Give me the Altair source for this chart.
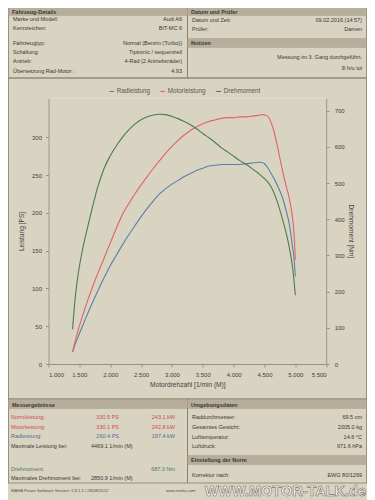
import altair as alt
import pandas as pd

# ---------------- curve data ----------------
rpm_motor = [1390, 1450, 1500, 1600, 1700, 1800, 1900, 2000, 2100, 2200, 2300, 2400, 2500,
             2600, 2700, 2800, 2900, 3000, 3100, 3200, 3300, 3400, 3500, 3600, 3700, 3800,
             3900, 4000, 4100, 4200, 4300, 4400, 4470, 4550, 4600, 4650, 4700, 4750, 4800,
             4850, 4900, 4950, 4980, 5000]
motor_ps = [16, 36, 50, 76, 99, 120, 140, 160, 180, 198, 212, 225, 237,
            248, 259, 269, 279, 288, 296, 303, 309, 314, 318, 321, 323, 325,
            326, 326, 327, 327, 328, 329, 330, 328, 321, 309, 292, 272, 253,
            236, 220, 196, 172, 138]

rpm_rad = [1390, 1450, 1500, 1600, 1700, 1800, 1900, 2000, 2100, 2200, 2300, 2400, 2500,
           2600, 2700, 2800, 2900, 3000, 3100, 3200, 3300, 3400, 3500, 3600, 3700, 3800,
           3900, 4000, 4100, 4200, 4300, 4400, 4450, 4500, 4550, 4600, 4650, 4700, 4750,
           4800, 4850, 4900, 4950, 4980, 5000]
rad_ps = [16, 30, 40, 60, 79, 97, 114, 130, 144, 158, 171, 183, 195,
          206, 216, 225, 232, 238, 243, 248, 252, 256, 259, 262, 263, 264,
          264, 264, 264, 265, 266, 267, 267, 265, 260, 253, 246, 238, 229,
          218, 203, 186, 158, 138, 116]

rpm_torque = [1390, 1420, 1470, 1550, 1620, 1700, 1800, 1900, 2000, 2100, 2200, 2300, 2400,
              2500, 2600, 2700, 2800, 2900, 3000, 3100, 3200, 3300, 3400, 3500, 3600, 3700,
              3800, 3900, 4000, 4100, 4200, 4300, 4400, 4500, 4600, 4700, 4800, 4860, 4910,
              4960, 5000]
torque_nm = [96, 160, 235, 315, 368, 425, 490, 540, 575, 603, 627, 647, 663,
             675, 683, 688, 690, 689, 684, 678, 670, 661, 650, 637, 625, 612,
             598, 586, 574, 562, 552, 540, 527, 512, 492, 452, 395, 356, 315,
             260, 190]

series_names = ["Radleistung", "Motorleistung", "Drehmoment"]
series_colors = ["#5a80a6", "#e2626a", "#4c7c4e"]

x_ticks = [1000, 1500, 2000, 2500, 3000, 3500, 4000, 4500, 5000, 5500]
ps_ticks = [0, 50, 100, 150, 200, 250, 300]
nm_ticks = [0, 100, 200, 300, 400, 500, 600, 700]

# ---------------- printout text ----------------
sec_titles = ["Fahrzeug-Details", "Datum und Prüfer", "Notizen",
              "Messergebnisse", "Umgebungsdaten", "Einstellung der Norm"]

veh_labels = ["Marke und Modell:", "Kennzeichen:", "Fahrzeugtyp:", "Schaltung:",
              "Antrieb:", "Übersetzung Rad-Motor :"]
veh_values = ["Audi A6", "BIT-MC 6", "Normal (Benzin (Turbo))", "Tiptronic / sequenziell",
              "4-Rad (2 Antriebsräder)", "4.93"]
date_labels = ["Datum und Zeit:", "Prüfer:"]
date_values = ["09.02.2016 (14:57)", "Damen"]
notes = ["Messung im 3. Gang durchgeführt.", "3l h/u tol"]

res_labels = ["Normleistung:", "Motorleistung:", "Radleistung:", "Maximale Leistung bei:",
              "Drehmoment:", "Maximales Drehmoment bei:"]
res_ps = ["330.5 PS", "330.1 PS", "260.4 PS"]
res_kw = ["243.1 kW", "242.8 kW", "197.4 kW"]
max_power_rpm = "4469.1 1/min (M)"
max_torque = "687.3 Nm"
max_torque_rpm = "2850.9 1/min (M)"

env_labels = ["Raddurchmesser:", "Gesamtes Gewicht:", "Lufttemperatur:", "Luftdruck:"]
env_values = ["69.5 cm", "2005.0 kg", "14.6 °C", "971.6 hPa"]
norm_label = "Korrektur nach:"
norm_value = "EWG 80/1269"
software_line = "MAHA Power Software Version: 1.8.1.1 / 28/08/2012"
web_line = "www.maha.com"
watermark = "WWW.MOTOR-TALK.de"

# ---------------- styling / layout ----------------
BG = "#d9d3c1"
BAR = "#b6ae9a"
BORDER = "#857d6b"
DARK = "#3b3731"
RED_T = "#d04c4c"
BLUE_T = "#4d6d90"
GREEN_T = "#4c7c4e"
FONT = "Liberation Sans"

PAD_L, PAD_T = 40.5, 90
W, H = 277.7, 266
TOTAL_W, TOTAL_H = 359, 492
PAGE_X = alt.Scale(domain=[0, 375], range=[-PAD_L - 8, 375 - PAD_L - 8], nice=False, zero=False)
PAGE_Y = alt.Scale(domain=[0, 500], range=[-PAD_T - 8, 500 - PAD_T - 8], nice=False, zero=False)

# ---------------- data frames ----------------
power_df = pd.concat([
    pd.DataFrame({"rpm": rpm_rad, "value": rad_ps, "series": series_names[0]}),
    pd.DataFrame({"rpm": rpm_motor, "value": motor_ps, "series": series_names[1]}),
])
torque_df = pd.DataFrame({"rpm": rpm_torque, "value": torque_nm, "series": series_names[2]})

color_enc = alt.Color(
    "series:N",
    scale=alt.Scale(domain=series_names, range=series_colors),
    legend=alt.Legend(orient="none", legendX=60, legendY=-10, direction="horizontal",
                      title=None, symbolType="stroke", symbolSize=22, symbolStrokeWidth=1.1,
                      labelFontSize=6.3, labelColor="#5a564e", labelOffset=2,
                      columnPadding=7, labelFont=FONT),
)

axis_common = dict(labelFontSize=6, labelColor="#45413a", labelFont=FONT,
                   titleFontSize=6.6, titleFontWeight="normal", titleColor="#45413a",
                   titleFont=FONT, domainColor="#9a927f", tickColor="#9a927f", tickSize=3)

power = alt.Chart(power_df).mark_line(interpolate="monotone", strokeWidth=1.1).encode(
    x=alt.X("rpm:Q", scale=alt.Scale(domain=[1000, 5500], nice=False, zero=False),
            axis=alt.Axis(values=x_ticks, title="Motordrehzahl [1/min (M)]",
                          labelExpr="replace(format(datum.value, ','), ',', '.')",
                          labelPadding=4, titleY=20, titleBaseline="middle",
                          gridColor="#cdc6b2", gridWidth=0.6, **axis_common)),
    y=alt.Y("value:Q", scale=alt.Scale(domain=[0, 352], nice=False),
            axis=alt.Axis(values=ps_ticks, orient="left", title="Leistung [PS]",
                          labelPadding=4, titleX=-27, titleY=133, titleBaseline="middle",
                          gridColor={"condition": {"test": "datum.value === 150 || datum.value === 200",
                                                   "value": "#a79f8b"},
                                     "value": "#d0c9b6"},
                          gridWidth=0.7, **axis_common)),
    color=color_enc,
)

torque = alt.Chart(torque_df).mark_line(interpolate="monotone", strokeWidth=1.1).encode(
    x=alt.X("rpm:Q", scale=alt.Scale(domain=[1000, 5500], nice=False, zero=False), axis=None),
    y=alt.Y("value:Q", scale=alt.Scale(domain=[0, 735], nice=False),
            axis=alt.Axis(values=nm_ticks, orient="right", title="Drehmoment [Nm]", grid=False,
                          labelPadding=5, titleX=24, titleY=133, titleBaseline="middle",
                          **axis_common)),
    color=color_enc,
)

# panel boxes and section bars (page coordinates)
box_specs = [
    (8.5, 8, 187.5, 78, "transparent", BORDER),
    (187.5, 8, 366.5, 78, "transparent", BORDER),
    (8.5, 78, 366.5, 399, "transparent", BORDER),
    (8.5, 399, 187.5, 483, "transparent", BORDER),
    (187.5, 399, 366.5, 483, "transparent", BORDER),
    (9, 8.5, 187, 15.5, BAR, BAR),
    (188, 8.5, 366, 15.5, BAR, BAR),
    (188, 38.5, 366, 47.5, BAR, BAR),
    (9, 400, 187, 408.5, BAR, BAR),
    (188, 400, 366, 408.5, BAR, BAR),
    (188, 455.5, 366, 464.5, BAR, BAR),
]
box_df = pd.DataFrame(box_specs, columns=["x", "y", "x2", "y2", "fill", "stroke"])
boxes = alt.Chart(box_df).mark_rect(strokeWidth=0.8).encode(
    x=alt.X("x:Q", scale=PAGE_X, axis=None), x2="x2:Q",
    y=alt.Y("y:Q", scale=PAGE_Y, axis=None), y2="y2:Q",
    fill=alt.Fill("fill:N", scale=None), stroke=alt.Stroke("stroke:N", scale=None),
)

# text rows
left_rows, right_rows = [], []
def add(rows, xs, ys, texts, color, size=5.5):
    for x, y, t in zip(xs, ys, texts):
        rows.append({"px": x, "py": y, "text": t, "color": color, "fs": size})

hdr_y = [19, 28, 43, 52, 61, 71]
add(left_rows, [13] * 6, hdr_y, veh_labels, DARK)
add(right_rows, [182] * 6, hdr_y, veh_values, DARK)
add(left_rows, [192] * 2, [19.5, 29], date_labels, DARK)
add(right_rows, [362] * 2, [19.5, 29], date_values, DARK)
add(right_rows, [362] * 2, [57, 67.5], notes, DARK)

res_y = [417, 426.5, 436, 445.5, 468.5, 478]
res_colors = [RED_T, RED_T, BLUE_T, DARK, GREEN_T, DARK]
for i in range(6):
    add(left_rows, [11], [res_y[i]], [res_labels[i]], res_colors[i])
for i in range(3):
    add(right_rows, [119], [res_y[i]], [res_ps[i]], res_colors[i])
    add(right_rows, [175], [res_y[i]], [res_kw[i]], res_colors[i])
add(left_rows, [91], [res_y[3]], [max_power_rpm], DARK)
add(right_rows, [175], [res_y[4]], [max_torque], GREEN_T)
add(left_rows, [91], [res_y[5]], [max_torque_rpm], DARK)

env_y = [417, 427, 436.5, 446]
add(left_rows, [192] * 4, env_y, env_labels, DARK)
add(right_rows, [362] * 4, env_y, env_values, DARK)
add(left_rows, [192], [474.5], [norm_label], DARK)
add(right_rows, [362], [474.5], [norm_value], DARK)
add(left_rows, [11], [491], [software_line], "#55504a", 4.2)
add(left_rows, [166], [491], [web_line], "#55504a", 4.2)

title_rows = []
add(title_rows, [12, 191, 191, 12, 191, 191], [12, 12, 43, 404.5, 404.5, 460], sec_titles, DARK)

def text_layer(rows, align, weight="normal"):
    return alt.Chart(pd.DataFrame(rows)).mark_text(
        align=align, baseline="middle", font=FONT, fontWeight=weight
    ).encode(
        x=alt.X("px:Q", scale=PAGE_X, axis=None),
        y=alt.Y("py:Q", scale=PAGE_Y, axis=None),
        text="text:N",
        fill=alt.Fill("color:N", scale=None),
        size=alt.Size("fs:Q", scale=None),
    )

wm_rows = []
add(wm_rows, [366], [491.5], [watermark], "#f4f2ee", 14.5)
wm = alt.Chart(pd.DataFrame(wm_rows)).mark_text(
    align="right", baseline="middle", font=FONT, fontWeight="bold",
    stroke="#77726a", strokeWidth=0.6
).encode(
    x=alt.X("px:Q", scale=PAGE_X, axis=None),
    y=alt.Y("py:Q", scale=PAGE_Y, axis=None),
    text="text:N",
    fill=alt.Fill("color:N", scale=None),
    size=alt.Size("fs:Q", scale=None),
)

chart = alt.layer(
    boxes, power, torque,
    text_layer(left_rows, "left"), text_layer(right_rows, "right"),
    text_layer(title_rows, "left", "bold"), wm,
).resolve_scale(
    x="independent", y="independent", fill="independent", size="independent"
).properties(
    width=W, height=H,
    padding={"left": PAD_L, "top": PAD_T, "right": TOTAL_W - PAD_L - W,
             "bottom": TOTAL_H - PAD_T - H},
    autosize=alt.AutoSizeParams(type="none"),
    background=BG,
).configure_view(
    stroke="#bab29f", strokeWidth=0.8
).configure(font=FONT)

chart.save("out.html", embed_options={"renderer": "svg", "actions": False})
